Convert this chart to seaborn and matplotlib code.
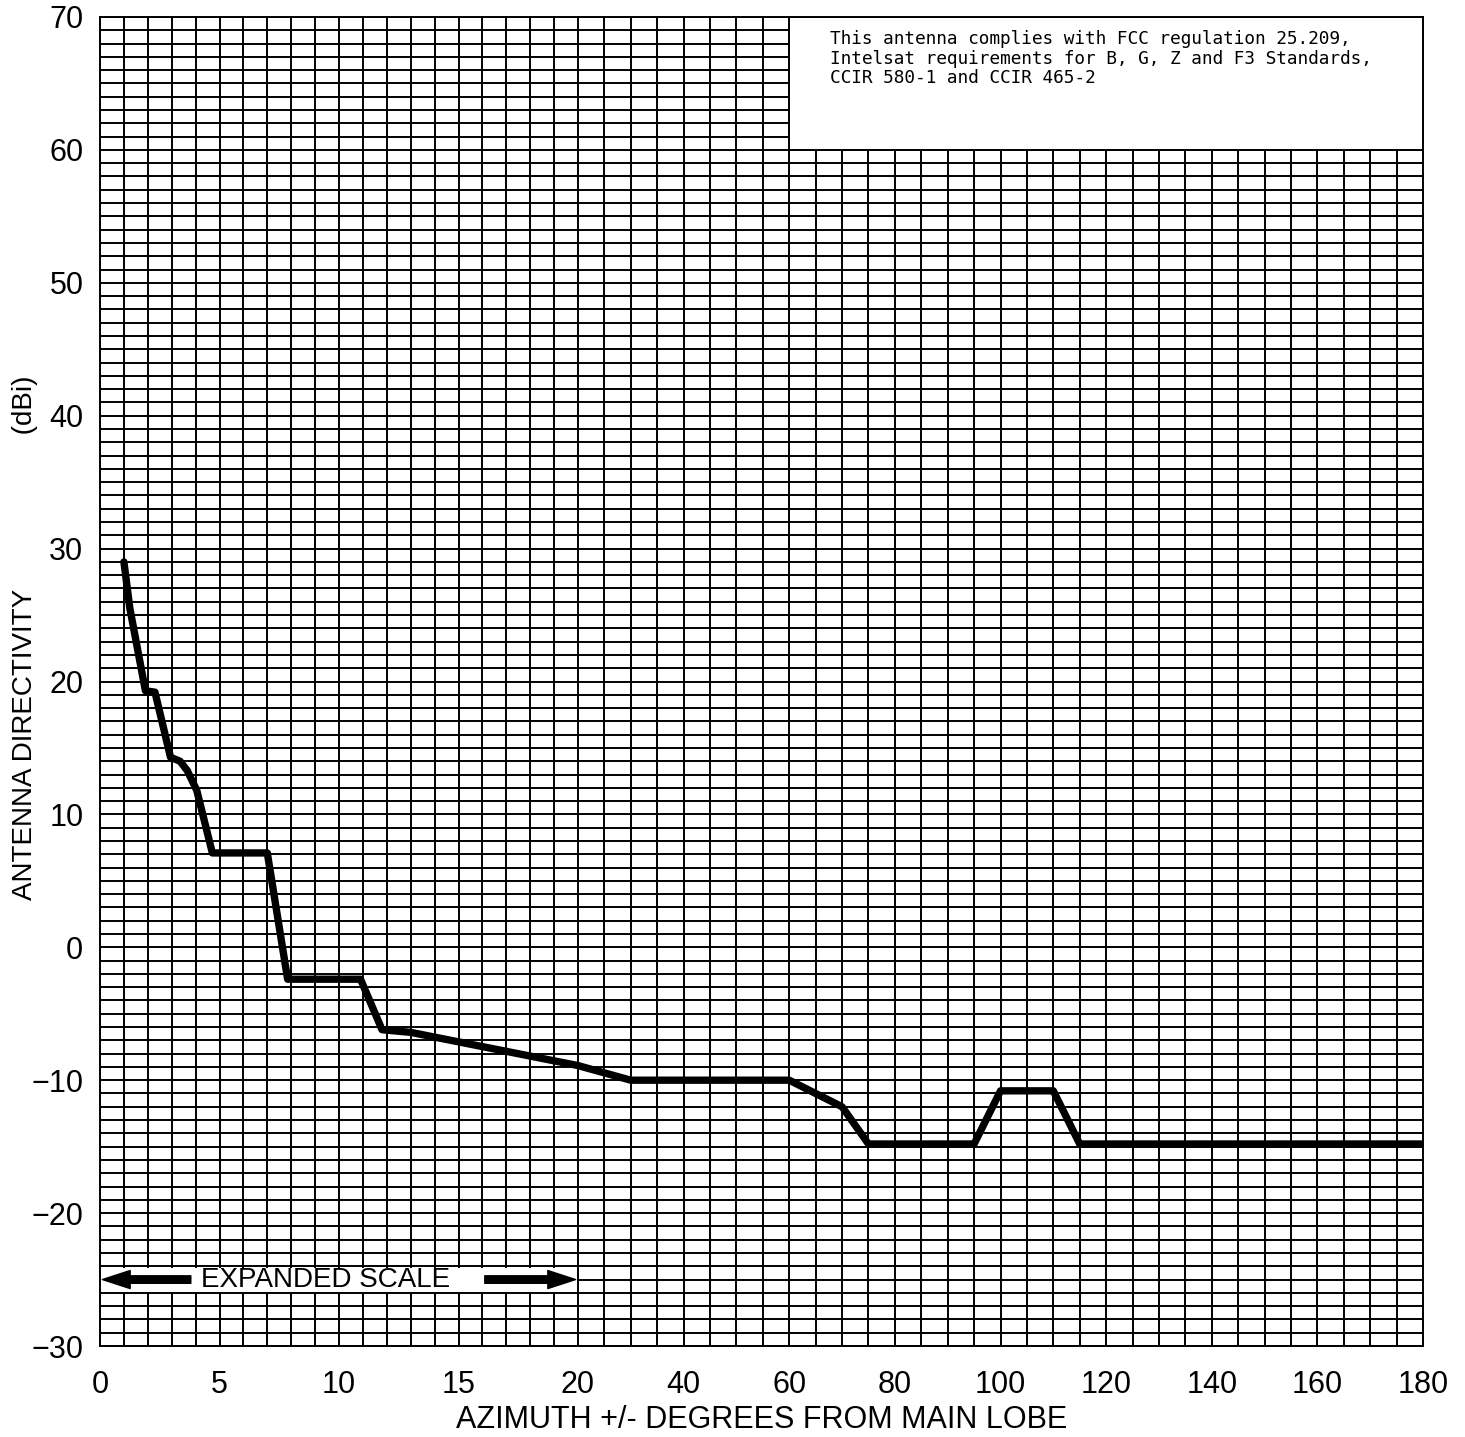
import numpy as np
import matplotlib
matplotlib.use("Agg")
import matplotlib.pyplot as plt
from matplotlib.patches import Rectangle
import seaborn as sns

# antenna pattern
azimuth = [1.0, 1.25, 1.9, 2.3, 2.95, 3.35, 3.65, 4.05, 4.7, 7.0, 7.85, 10.9,
           11.8, 13.0, 20, 30, 60, 70, 75, 95, 100, 110, 115, 180]
gain = [29.0, 25.5, 19.3, 19.2, 14.3, 14.0, 13.3, 11.8, 7.1, 7.1, -2.4, -2.4,
        -6.2, -6.4, -8.9, -10.0, -10.0, -12.0, -14.8, -14.8, -10.8, -10.8,
        -14.8, -14.8]

xticks = [0, 5, 10, 15, 20, 40, 60, 80, 100, 120, 140, 160, 180]
xgrid = list(range(0, 21)) + list(range(25, 181, 5))
yticks = list(range(-30, 71, 10))
ygrid = list(range(-30, 71))

note = ("This antenna complies with FCC regulation 25.209,\n"
        "Intelsat requirements for B, G, Z and F3 Standards,\n"
        "CCIR 580-1 and CCIR 465-2")

# 0-20 deg is drawn expanded, 20-180 compressed
K = (845 / 160) / (478 / 20)


def fwd(x):
    x = np.asarray(x, dtype=float)
    return np.where(x <= 20, x, 20 + (x - 20) * K)


def inv(u):
    u = np.asarray(u, dtype=float)
    return np.where(u <= 20, u, 20 + (u - 20) / K)


sns.set_style("white")
plt.rcParams['font.family'] = ['Liberation Sans', 'DejaVu Sans']
plt.rcParams['text.color'] = 'black'
plt.rcParams['axes.labelcolor'] = 'black'

fig = plt.figure(figsize=(14.65, 14.37), dpi=100)
ax = fig.add_axes([100 / 1465, 1 - 1346 / 1437, 1323 / 1465, 1329 / 1437])
ax.set_xscale('function', functions=(fwd, inv))
ax.set_xlim(0, 180)
ax.set_ylim(-30, 70)

sns.lineplot(x=azimuth, y=gain, ax=ax, color='black', lw=5.3, sort=False, zorder=4)

ax.set_xticks(xticks)
ax.set_xticks(xgrid, minor=True)
ax.set_yticks(yticks)
ax.set_yticks(ygrid, minor=True)
ax.set_axisbelow(True)
ax.grid(which='both', color='black', lw=1.4)
ax.tick_params(which='minor', length=0)
ax.tick_params(which='major', direction='out', length=9, width=1.3,
               color='black', labelsize=22, labelcolor='black')
ax.tick_params(axis='x', pad=8)
ax.tick_params(axis='y', pad=3)
for s in ax.spines.values():
    s.set_color('black')
    s.set_linewidth(1.4)

# note box top right
ax.add_patch(Rectangle((60, 60), 120, 10, fc='white', ec='black', lw=1.4, zorder=2))
ax.text(67.7, 69.0, note, family=['DejaVu Sans Mono'], fontsize=12.8,
        va='top', ha='left', linespacing=1.1, zorder=3)

# expanded scale band
ax.add_patch(Rectangle((0, -25.9), 19.95, 1.8, fc='white', ec='none', zorder=2))
ax.text(9.45, -25, "EXPANDED SCALE", fontsize=20, ha='center', va='center', zorder=3)
arrow = dict(arrowstyle='simple,head_length=1.0,head_width=0.65,tail_width=0.27',
             mutation_scale=20, fc='black', ec='black', shrinkA=0, shrinkB=0)
ax.annotate('', xy=(0.1, -25), xytext=(3.8, -25), arrowprops=arrow, zorder=3)
ax.annotate('', xy=(19.9, -25), xytext=(16.1, -25), arrowprops=arrow, zorder=3)

ax.set_xlabel("AZIMUTH +/- DEGREES FROM MAIN LOBE", fontsize=22, va='center')
ax.xaxis.set_label_coords(0.5, -0.0557)
ax.set_ylabel("ANTENNA DIRECTIVITY" + " " * 20 + "(dBi)", fontsize=20, va='center')
ax.yaxis.set_label_coords(-0.0567, 0.533)

fig.savefig("out.png", dpi=100)
